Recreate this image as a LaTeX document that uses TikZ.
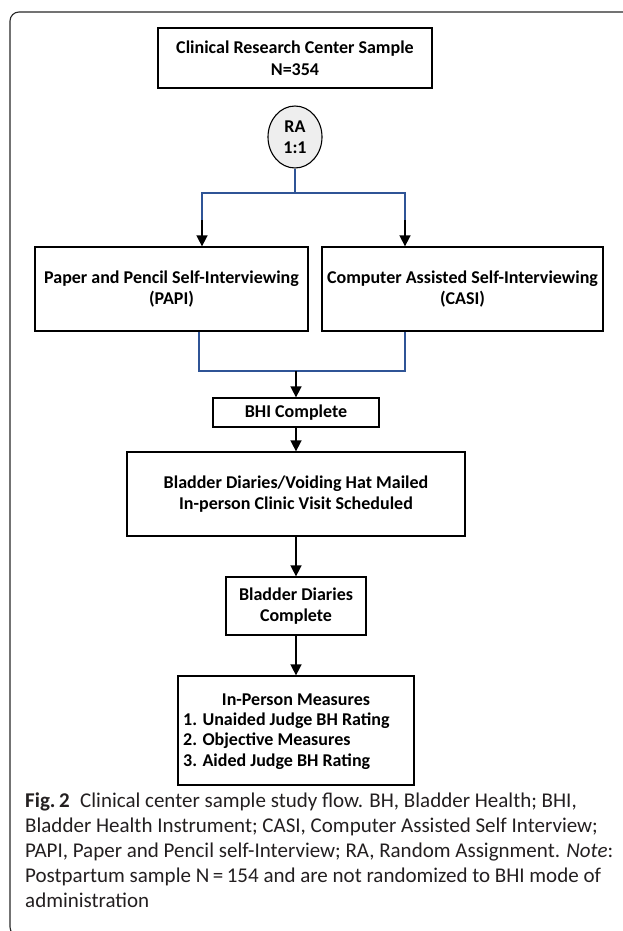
\documentclass[tikz,border=0pt]{standalone}
\usepackage{fontspec}
\setmainfont{Carlito}
\usetikzlibrary{arrows.meta,shapes.geometric,calc}
\definecolor{conblue}{RGB}{47,84,150}
\definecolor{framegray}{RGB}{40,40,40}
\definecolor{capgray}{RGB}{35,31,32}
\newcommand\boxfont{\fontsize{18}{21.5}\selectfont\bfseries}
\newcommand\listfont{\fontsize{18}{20.7}\selectfont\bfseries}
\newcommand\capfont{\fontsize{21}{25}\selectfont}
\begin{document}
\begin{tikzpicture}[x=1pt,y=-1pt,
  flowbox/.style={draw,line width=1.3pt,inner sep=0pt,align=center,font=\boxfont},
  blueline/.style={draw=conblue,line width=1.6pt},
  arr/.style={draw=black,line width=1.6pt,-{Triangle[width=11pt,length=11pt]}},
  framestyle/.style={draw=framegray,line width=1.1pt,rounded corners=9pt}]
\useasboundingbox (0,0) rectangle (623,931);
% outer frame
\coordinate (fr1) at (640,12);
\coordinate (fr2) at (10,12);
\coordinate (fr3) at (10,936);
\coordinate (fr4) at (40,936);
\draw[framestyle] (fr1) -- (fr2) -- (fr3) -- (fr4);
% boxes
\node[flowbox,minimum width=274pt,minimum height=60pt] (top) at (295,58) {Clinical Research Center Sample\\N=354};
\node[ellipse,draw,line width=1.1pt,fill=gray!13,minimum width=54pt,minimum height=62pt,inner sep=0pt,align=center,font=\boxfont] (ra) at (295,137) {RA\\1:1};
\node[flowbox,minimum width=273pt,minimum height=84pt] (papi) at (171.5,289) {Paper and Pencil Self-Interviewing\\(PAPI)};
\node[flowbox,minimum width=281pt,minimum height=84pt] (casi) at (462.5,289) {Computer Assisted Self-Interviewing\\(CASI)};
\node[flowbox,minimum width=166pt,minimum height=29pt] (bhi) at (296,412.5) {BHI Complete};
\node[flowbox,minimum width=338pt,minimum height=84pt] (mail) at (296,494) {Bladder Diaries/Voiding Hat Mailed\\In-person Clinic Visit Scheduled};
\node[flowbox,minimum width=140pt,minimum height=58pt] (bdc) at (296,606) {Bladder Diaries\\Complete};
\node[flowbox,minimum width=236pt,minimum height=109pt] (ip) at (296,730.5) {};
\node[font=\boxfont,inner sep=0pt] (iptitle) at (296,700) {In-Person Measures};
\node[font=\listfont,align=left,inner sep=0pt,anchor=west] (iplist) at (183,741) {1. Unaided Judge BH Rating\\2. Objective Measures\\3. Aided Judge BH Rating};
% connectors
\coordinate (tj) at (295,193);
\coordinate (tl) at (202,193);
\coordinate (tr) at (405,193);
\coordinate (pl) at (202,220);
\coordinate (pr) at (405,220);
\draw[blueline] (ra.south) -- (tj);
\draw[blueline] (pl) -- (tl) -- (tr) -- (pr);
\draw[arr] (pl) -- (pl |- papi.north);
\draw[arr] (pr) -- (pr |- casi.north);
\coordinate (bl) at (199,371);
\coordinate (br) at (405,371);
\coordinate (bj) at (296,371);
\draw[blueline] (papi.south -| bl) -- (bl) -- (br) -- (casi.south -| br);
\draw[arr] (bj) -- (bhi.north);
\draw[arr] (bhi.south) -- (mail.north);
\draw[arr] (mail.south) -- (bdc.north);
\draw[arr] (bdc.south) -- (ip.north);
% caption
\node[anchor=north west,align=left,inner sep=0pt,font=\capfont,text=capgray] (cap) at (25,793) {\textbf{Fig.\,2}\enspace Clinical center sample study flow. BH, Bladder Health; BHI,\\Bladder Health Instrument; CASI, Computer Assisted Self Interview;\\PAPI, Paper and Pencil self-Interview; RA, Random Assignment. \textit{Note}:\\Postpartum sample N\,=\,154 and are not randomized to BHI mode of\\administration};
\end{tikzpicture}
\end{document}
